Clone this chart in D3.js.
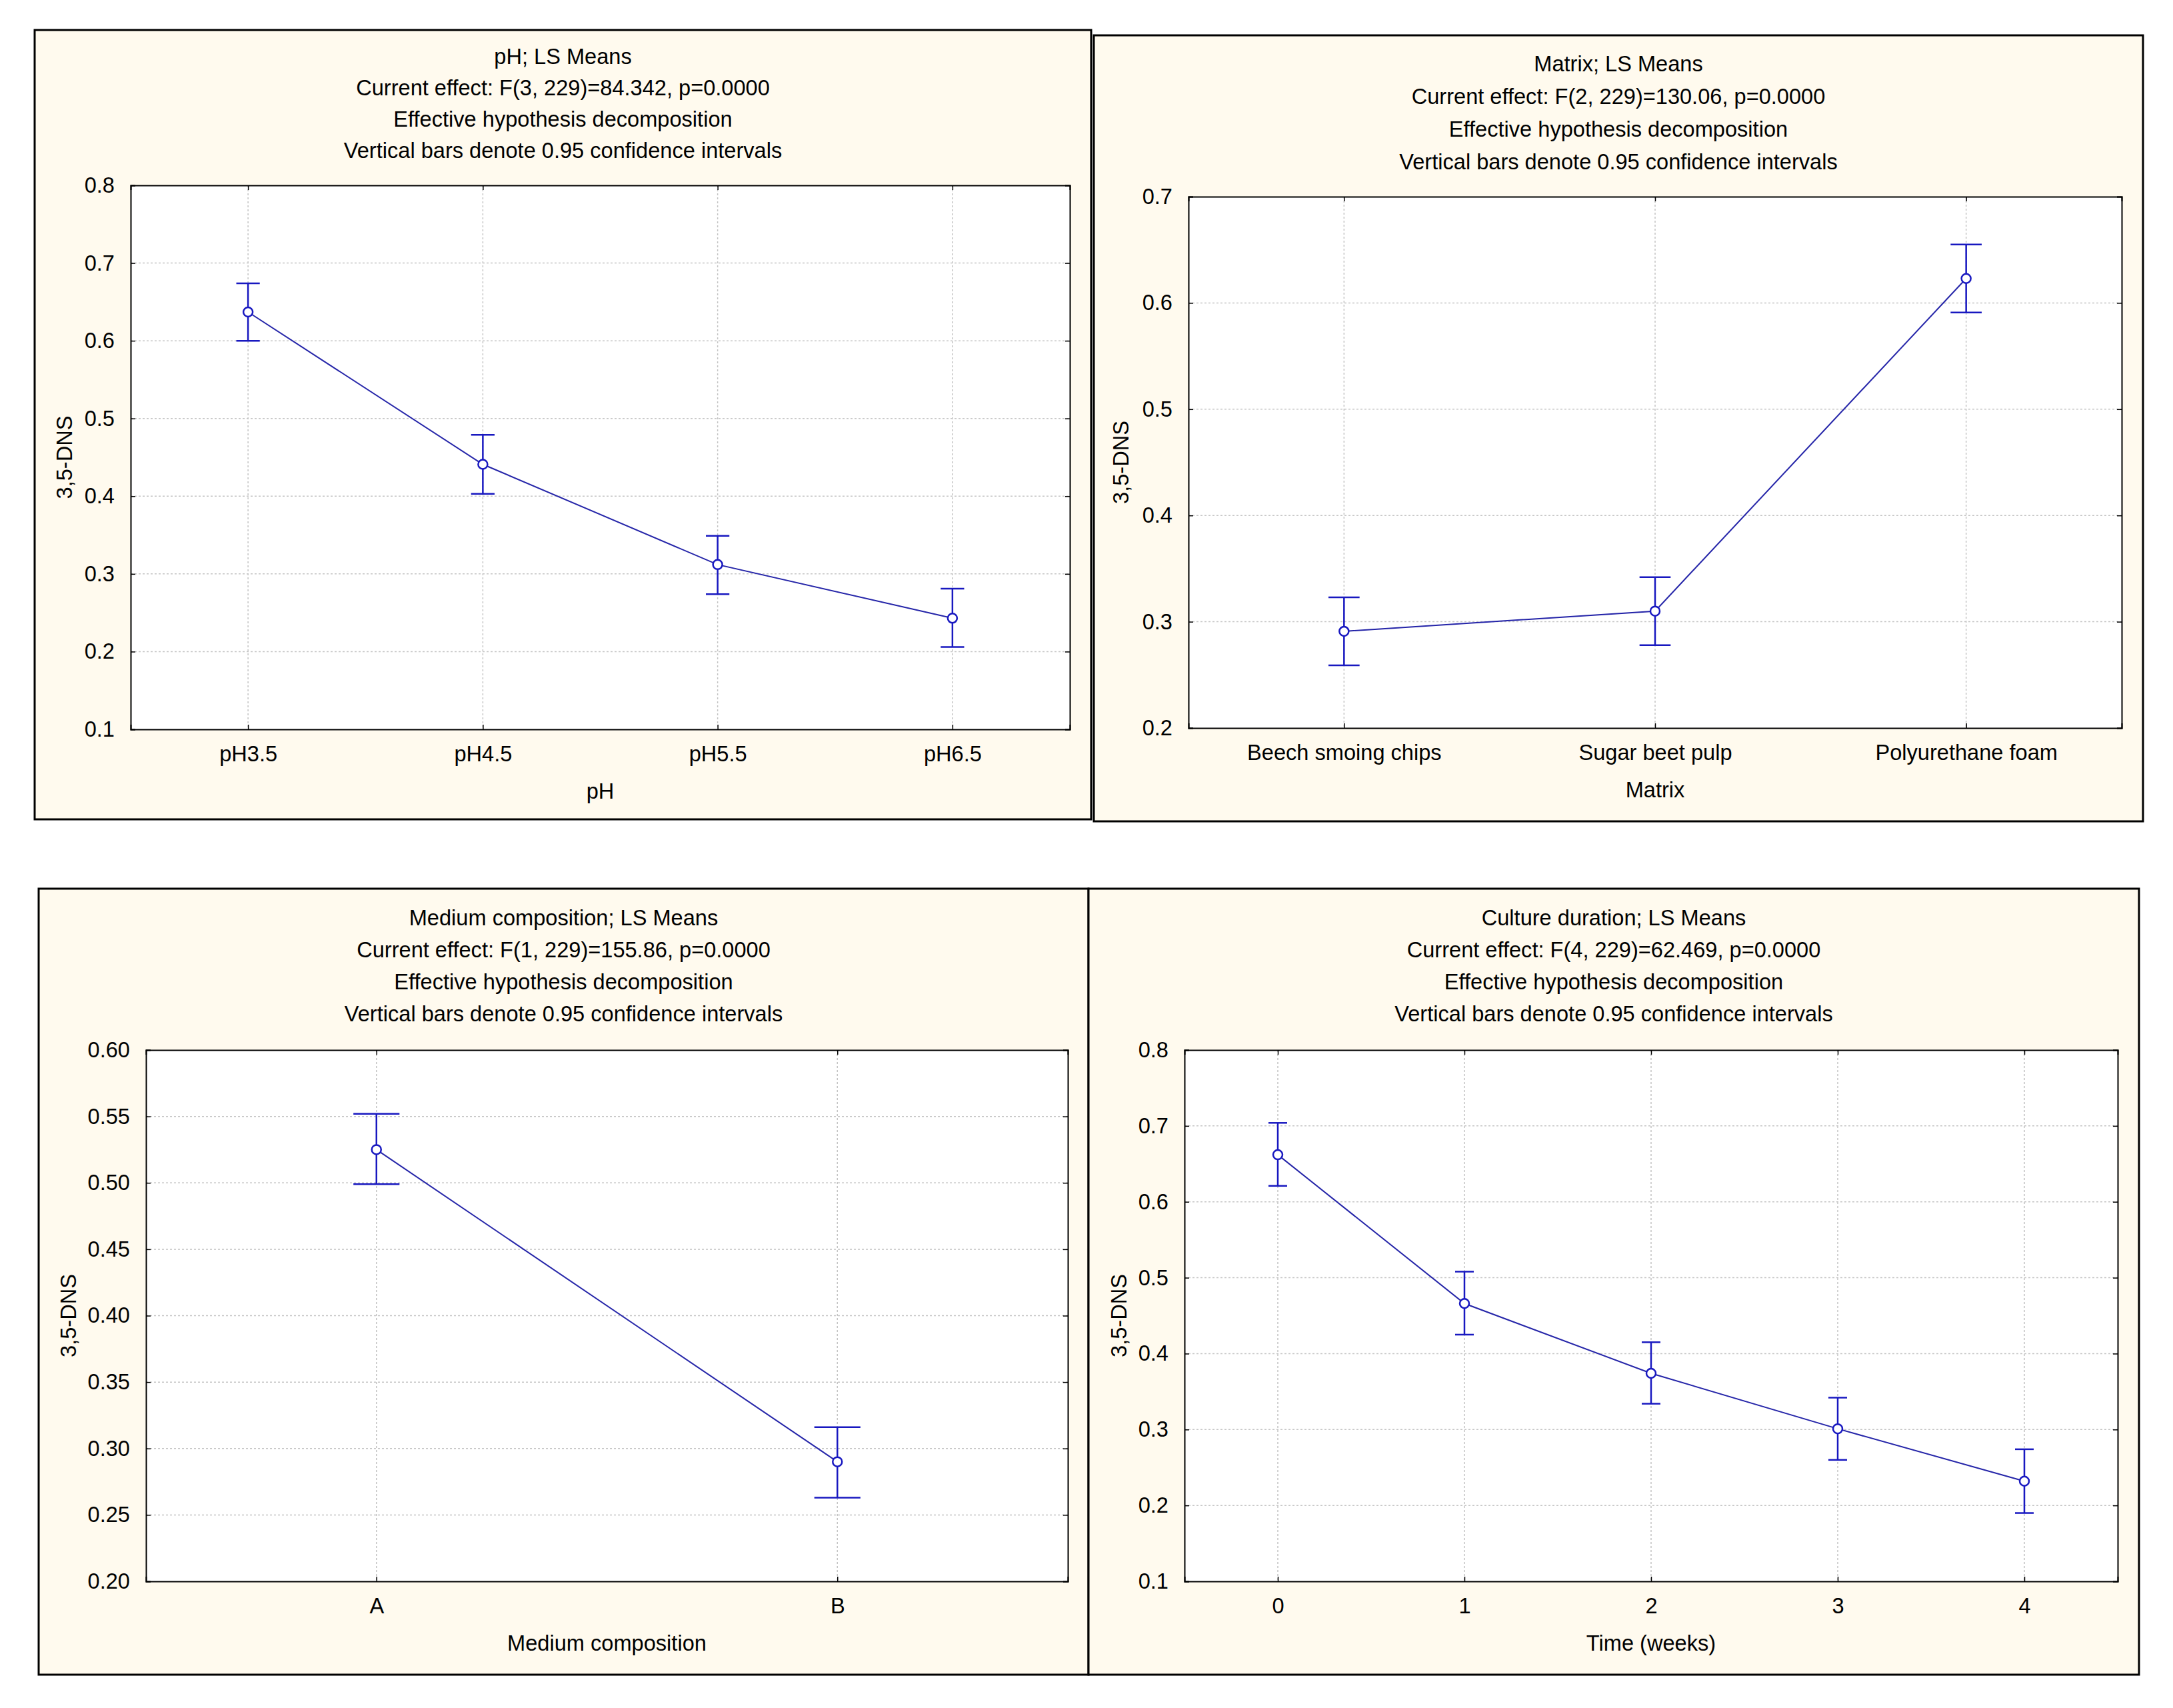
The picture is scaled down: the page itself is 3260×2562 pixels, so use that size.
<!DOCTYPE html>
<html>
<head>
<meta charset="utf-8">
<script src="https://cdn.jsdelivr.net/npm/d3@7"></script>
<style>
  body { margin: 0; background: #ffffff; }
  svg { display: block; }
</style>
</head>
<body>
<script>
const WIDTH = 3260;
const HEIGHT = 2562;
const FONT = "Arial, 'Liberation Sans', sans-serif";
const FSIZE = 32.6;

// pH panel
const phTitle = ["pH; LS Means", "Current effect: F(3, 229)=84.342, p=0.0000",
    "Effective hypothesis decomposition", "Vertical bars denote 0.95 confidence intervals"];
const phCats = ["pH3.5", "pH4.5", "pH5.5", "pH6.5"];
const phMeans = [0.637, 0.441, 0.312, 0.243];
const phLow = [0.600, 0.403, 0.274, 0.206];
const phHigh = [0.674, 0.479, 0.349, 0.281];
const phTicks = [0.1, 0.2, 0.3, 0.4, 0.5, 0.6, 0.7, 0.8];

// matrix panel
const mxTitle = ["Matrix; LS Means", "Current effect: F(2, 229)=130.06, p=0.0000",
    "Effective hypothesis decomposition", "Vertical bars denote 0.95 confidence intervals"];
const mxCats = ["Beech smoing chips", "Sugar beet pulp", "Polyurethane foam"];
const mxMeans = [0.291, 0.310, 0.623];
const mxLow = [0.259, 0.278, 0.591];
const mxHigh = [0.323, 0.342, 0.655];
const mxTicks = [0.2, 0.3, 0.4, 0.5, 0.6, 0.7];

// medium composition panel
const mdTitle = ["Medium composition; LS Means", "Current effect: F(1, 229)=155.86, p=0.0000",
    "Effective hypothesis decomposition", "Vertical bars denote 0.95 confidence intervals"];
const mdCats = ["A", "B"];
const mdMeans = [0.525, 0.290];
const mdLow = [0.499, 0.263];
const mdHigh = [0.552, 0.316];
const mdTicks = [0.20, 0.25, 0.30, 0.35, 0.40, 0.45, 0.50, 0.55, 0.60];

// culture duration panel
const cdTitle = ["Culture duration; LS Means", "Current effect: F(4, 229)=62.469, p=0.0000",
    "Effective hypothesis decomposition", "Vertical bars denote 0.95 confidence intervals"];
const cdCats = ["0", "1", "2", "3", "4"];
const cdMeans = [0.662, 0.466, 0.374, 0.301, 0.232];
const cdLow = [0.621, 0.425, 0.334, 0.260, 0.190];
const cdHigh = [0.704, 0.508, 0.415, 0.342, 0.274];
const cdTicks = [0.1, 0.2, 0.3, 0.4, 0.5, 0.6, 0.7, 0.8];

var canvas = d3.select("body").append("svg")
    .attr("width", WIDTH)
    .attr("height", HEIGHT);

canvas.append("rect").attr("width", WIDTH).attr("height", HEIGHT).attr("fill", "#ffffff");

// draw one STATISTICA style means plot
// lay = {box, plot, titleY, titleGap, yTitleX}
function drawPanel(lay, titles, cats, means, low, high, ticks, fmt, xTitle) {
    var box = lay.box, plot = lay.plot;
    var g = canvas.append("g");

    g.append("rect")
        .attr("x", box[0]).attr("y", box[1])
        .attr("width", box[2] - box[0]).attr("height", box[3] - box[1])
        .attr("fill", "#fffaee")
        .attr("stroke", "#000").attr("stroke-width", 3);

    var x = d3.scalePoint().domain(cats).range([plot[0], plot[2]]).padding(0.5);
    var y = d3.scaleLinear().domain([ticks[0], ticks[ticks.length - 1]]).range([plot[3], plot[1]]);

    g.append("rect")
        .attr("x", plot[0]).attr("y", plot[1])
        .attr("width", plot[2] - plot[0]).attr("height", plot[3] - plot[1])
        .attr("fill", "#ffffff");

    // title lines
    var cx = (box[0] + box[2]) / 2;
    g.selectAll(".title").data(titles).enter().append("text")
        .attr("x", cx)
        .attr("y", (d, i) => lay.titleY + i * lay.titleGap)
        .attr("text-anchor", "middle")
        .attr("font-family", FONT).attr("font-size", FSIZE)
        .text(d => d);

    // grid
    g.selectAll(".hgrid").data(ticks.slice(1, -1)).enter().append("line")
        .attr("x1", plot[0]).attr("x2", plot[2])
        .attr("y1", d => y(d)).attr("y2", d => y(d))
        .attr("stroke", "#c4c4c4").attr("stroke-width", 1.5).attr("stroke-dasharray", "3,3");
    g.selectAll(".vgrid").data(cats).enter().append("line")
        .attr("x1", d => x(d)).attr("x2", d => x(d))
        .attr("y1", plot[1]).attr("y2", plot[3])
        .attr("stroke", "#c4c4c4").attr("stroke-width", 1.5).attr("stroke-dasharray", "3,3");

    // axes with inner ticks
    var yAxis = d3.axisLeft(y).tickValues(ticks).tickSize(-7).tickPadding(24).tickFormat(d3.format(fmt));
    var yAxisR = d3.axisRight(y).tickValues(ticks).tickSize(-7).tickFormat("");
    var xAxis = d3.axisBottom(x).tickSize(-7).tickPadding(25);
    var xAxisT = d3.axisTop(x).tickSize(-7).tickFormat("");

    var axes = [
        g.append("g").attr("transform", "translate(" + plot[0] + ",0)").call(yAxis),
        g.append("g").attr("transform", "translate(" + plot[2] + ",0)").call(yAxisR),
        g.append("g").attr("transform", "translate(0," + plot[3] + ")").call(xAxis),
        g.append("g").attr("transform", "translate(0," + plot[1] + ")").call(xAxisT)
    ];
    axes.forEach(function (a) {
        a.select(".domain").attr("stroke", "#000").attr("stroke-width", 2);
        a.selectAll(".tick line").attr("stroke", "#000").attr("stroke-width", 1.5);
        a.selectAll("text").attr("font-family", FONT).attr("font-size", FSIZE).attr("fill", "#000");
    });

    // axis titles
    g.append("text")
        .attr("x", (plot[0] + plot[2]) / 2)
        .attr("y", plot[3] + 104)
        .attr("text-anchor", "middle")
        .attr("font-family", FONT).attr("font-size", FSIZE)
        .text(xTitle);
    g.append("text")
        .attr("transform", "translate(" + lay.yTitleX + "," + ((plot[1] + plot[3]) / 2) + ") rotate(-90)")
        .attr("text-anchor", "middle")
        .attr("font-family", FONT).attr("font-size", FSIZE)
        .text("3,5-DNS");

    var pts = cats.map((c, i) => ({ c: c, m: means[i], lo: low[i], hi: high[i] }));

    // mean line
    g.append("path")
        .datum(pts)
        .attr("d", d3.line().x(d => x(d.c)).y(d => y(d.m)))
        .attr("fill", "none").attr("stroke", "#2424a8").attr("stroke-width", 2);

    // error bars
    var cap = x.step() * 0.05;
    var bars = g.selectAll(".bar").data(pts).enter().append("g")
        .attr("stroke", "#1818c0").attr("stroke-width", 2.5);
    bars.append("line")
        .attr("x1", d => x(d.c)).attr("x2", d => x(d.c))
        .attr("y1", d => y(d.lo)).attr("y2", d => y(d.hi));
    bars.append("line")
        .attr("x1", d => x(d.c) - cap).attr("x2", d => x(d.c) + cap)
        .attr("y1", d => y(d.lo)).attr("y2", d => y(d.lo));
    bars.append("line")
        .attr("x1", d => x(d.c) - cap).attr("x2", d => x(d.c) + cap)
        .attr("y1", d => y(d.hi)).attr("y2", d => y(d.hi));

    // mean markers
    g.selectAll(".pt").data(pts).enter().append("circle")
        .attr("cx", d => x(d.c)).attr("cy", d => y(d.m)).attr("r", 7)
        .attr("fill", "#ffffff").attr("stroke", "#1818c0").attr("stroke-width", 2.5);
}

drawPanel({ box: [52, 45, 1637, 1229], plot: [196, 278, 1605, 1094], titleY: 96, titleGap: 47, yTitleX: 108 },
    phTitle, phCats, phMeans, phLow, phHigh, phTicks, ".1f", "pH");
drawPanel({ box: [1641, 53, 3215, 1232], plot: [1783, 295, 3183, 1092], titleY: 107, titleGap: 49, yTitleX: 1693 },
    mxTitle, mxCats, mxMeans, mxLow, mxHigh, mxTicks, ".1f", "Matrix");
drawPanel({ box: [58, 1333, 1633, 2512], plot: [219, 1575, 1602, 2372], titleY: 1388, titleGap: 48, yTitleX: 114 },
    mdTitle, mdCats, mdMeans, mdLow, mdHigh, mdTicks, ".2f", "Medium composition");
drawPanel({ box: [1633, 1333, 3209, 2512], plot: [1777, 1575, 3177, 2372], titleY: 1388, titleGap: 48, yTitleX: 1690 },
    cdTitle, cdCats, cdMeans, cdLow, cdHigh, cdTicks, ".1f", "Time (weeks)");
</script>
</body>
</html>
